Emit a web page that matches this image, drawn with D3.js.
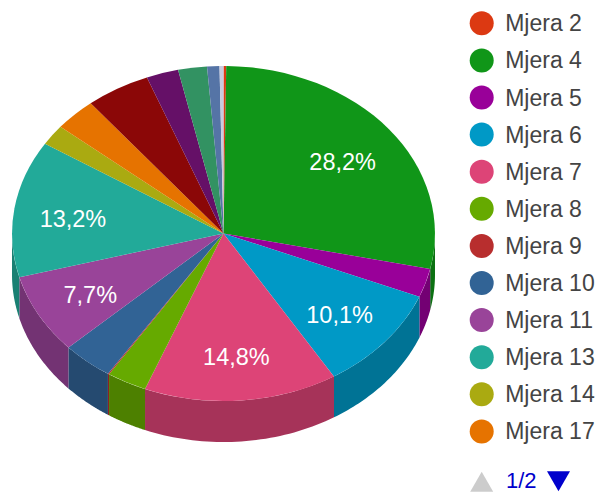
<!DOCTYPE html>
<html>
<head>
<meta charset="utf-8">
<script src="https://cdn.jsdelivr.net/npm/d3@7"></script>
<style>
  html, body { margin: 0; padding: 0; background: #fff; }
  svg { display: block; font-family: "Liberation Sans", Arial, sans-serif; }
</style>
</head>
<body>
<div id="chart"></div>
<script>
// Slice names, the last five sit on legend page 2 so their names are not visible
const names = ['Mjera 2', 'Mjera 4', 'Mjera 5', 'Mjera 6', 'Mjera 7', 'Mjera 8', 'Mjera 9', 'Mjera 10',
  'Mjera 11', 'Mjera 13', 'Mjera 14', 'Mjera 17', 'Mjera 18', 'Mjera 19', 'Mjera 20', 'Mjera 21', 'Mjera 22'];
// Shares in percent
const shares = [0.2, 28.2, 2.75, 10.1, 14.8, 3.05, 0.1, 3.9, 7.7, 13.2, 2.0, 3.2, 4.9, 2.45, 2.2, 0.95, 0.3];
const colors = ['#dc3912', '#109618', '#990099', '#0099c6', '#dd4477', '#66aa00', '#b82e2e', '#316395',
  '#994499', '#22aa99', '#aaaa11', '#e67300', '#8b0707', '#651067', '#329262', '#5574a6', '#c9cbe0'];
const pageLabel = '1/2';

const width = 598;
const height = 492;
const cx = 223.5;
const cy = 233.5;
const rx = 211.5;
const ry = 167.5;
const depth = 41;
const labelRadius = 0.72;
const labelShift = 3;
const minLabelShare = 5;
const legendSize = 12;

const svg = d3.select('#chart')
  .append('svg')
  .attr('width', width)
  .attr('height', height)
  .attr('viewBox', `0 0 ${width} ${height}`);

// Unit circle scaled to the ellipse
const xScale = d3.scaleLinear().domain([-1, 1]).range([cx - rx, cx + rx]);
const yScale = d3.scaleLinear().domain([-1, 1]).range([cy - ry, cy + ry]);

const arcs = d3.pie().sort(null)(shares);
const unitArc = d3.arc().innerRadius(0).outerRadius(1);

// Side wall, only the front half of the rim is visible
const rimX = a => xScale(Math.sin(a));
const rimY = a => yScale(-Math.cos(a));
const sideLine = d3.line().x(d => d.x).y(d => d.y);

function sidePath(d) {
  const start = Math.max(d.startAngle, Math.PI / 2);
  const end = Math.min(d.endAngle, Math.PI * 3 / 2);
  if (end <= start) return null;
  const steps = d3.range(0, 41).map(i => start + (end - start) * i / 40);
  const upper = steps.map(a => ({ x: rimX(a), y: rimY(a) }));
  const lower = steps.slice().reverse().map(a => ({ x: rimX(a), y: rimY(a) + depth }));
  return sideLine(upper.concat(lower)) + 'Z';
}

svg.append('g')
  .selectAll('path')
  .data(arcs)
  .join('path')
  .attr('d', sidePath)
  .attr('fill', (d, i) => d3.rgb(colors[i]).darker(0.8));

// Top face
svg.append('g')
  .attr('transform', `translate(${cx},${cy}) scale(${rx},${ry})`)
  .selectAll('path')
  .data(arcs)
  .join('path')
  .attr('d', unitArc)
  .attr('fill', (d, i) => colors[i]);

// Percent labels on the bigger slices
const labelled = arcs.filter(d => d.data >= minLabelShare);

svg.append('g')
  .selectAll('text')
  .data(labelled)
  .join('text')
  .attr('x', d => xScale(Math.sin((d.startAngle + d.endAngle) / 2) * labelRadius))
  .attr('y', d => yScale(-Math.cos((d.startAngle + d.endAngle) / 2) * labelRadius) + labelShift)
  .attr('dy', '0.35em')
  .attr('text-anchor', 'middle')
  .attr('fill', '#ffffff')
  .attr('font-size', '23.5px')
  .text(d => d.data.toFixed(1).replace('.', ',') + '%');

// Legend, first page only
const legendY = d3.scaleLinear().domain([0, 1]).range([23.3, 60.4]);

const legendItems = svg.append('g')
  .selectAll('g')
  .data(names.slice(0, legendSize))
  .join('g')
  .attr('transform', (d, i) => `translate(481.7,${legendY(i)})`);

legendItems.append('circle')
  .attr('r', 12)
  .attr('fill', (d, i) => colors[i]);

legendItems.append('text')
  .attr('x', 23.5)
  .attr('dy', '0.35em')
  .attr('fill', '#444444')
  .attr('font-size', '23px')
  .text(d => d);

// Pager
const triangle = d3.symbol().type(d3.symbolTriangle).size(229);

svg.append('path')
  .attr('d', triangle())
  .attr('transform', 'translate(481.7,485)')
  .attr('fill', '#cccccc');

svg.append('text')
  .attr('x', 506)
  .attr('y', 488)
  .attr('fill', '#0000cc')
  .attr('font-size', '22px')
  .text(pageLabel);

svg.append('path')
  .attr('d', triangle())
  .attr('transform', 'translate(558.5,478) rotate(180)')
  .attr('fill', '#0000cc');
</script>
</body>
</html>
